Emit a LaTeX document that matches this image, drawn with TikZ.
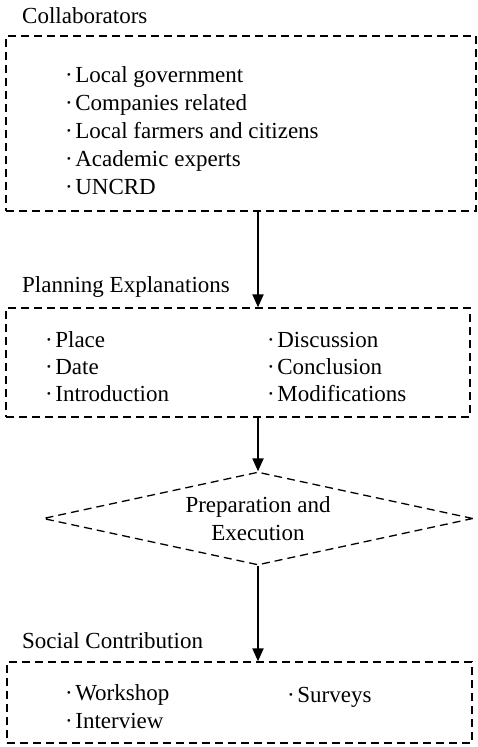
\documentclass[tikz,border=0pt]{standalone}
\usepackage{fontspec}
\setmainfont{Liberation Serif}
\usetikzlibrary{shapes.geometric,arrows.meta}
\newcommand{\bul}{·\hspace{2.5pt}}
\begin{document}
\begin{tikzpicture}[x=1pt,y=-1pt,
  every node/.style={font=\fontsize{23}{28}\selectfont},
  box/.style={draw, dash pattern=on 8pt off 5pt, line width=1.3pt, inner sep=0pt},
  title/.style={anchor=base west, inner sep=0pt},
  items/.style={anchor=base west, inner sep=0pt, align=left},
  flow/.style={line width=2pt, -{Triangle[length=13pt,width=11pt]}}]
\useasboundingbox (0,0) rectangle (477,747);

% Collaborators (item lists are placed by the baseline of their last line)
\node[title] (t1) at (22,23) {Collaborators};
\node[box, minimum width=470pt, minimum height=175pt] (b1) at (241,123.5) {};
\node[items] (l1) at (65,194) {\bul Local government\\ \bul Companies related\\ \bul Local farmers and citizens\\ \bul Academic experts\\ \bul UNCRD};

% Planning explanations
\node[title] (t2) at (22,292) {Planning Explanations};
\node[box, minimum width=464pt, minimum height=109pt] (b2) at (238,362.5) {};
\node[items, font=\fontsize{23}{27}\selectfont] (l2a) at (45,401) {\bul Place\\ \bul Date\\ \bul Introduction};
\node[items, font=\fontsize{23}{27}\selectfont] (l2b) at (267,401) {\bul Discussion\\ \bul Conclusion\\ \bul Modifications};

% Preparation and execution
\node[diamond, draw, dash pattern=on 8pt off 5pt, line width=1.3pt, aspect=4.6,
      minimum width=430pt, minimum height=93pt, inner sep=0pt, align=center]
      (d) at (258,518.5) {Preparation and\\ Execution};

% Social contribution
\node[title] (t4) at (22,648) {Social Contribution};
\node[box, minimum width=465pt, minimum height=81pt] (b4) at (239.5,702.5) {};
\node[items] (l4a) at (65,728) {\bul Workshop\\ \bul Interview};
\node[items] (l4b) at (287,702) {\bul Surveys};

% Flow arrows
\draw[flow] (b1.south -| d.north) -- (b2.north -| d.north);
\draw[flow] (b2.south -| d.north) -- (d.north);
\draw[flow] (d.south) -- (b4.north -| d.south);
\end{tikzpicture}
\end{document}
